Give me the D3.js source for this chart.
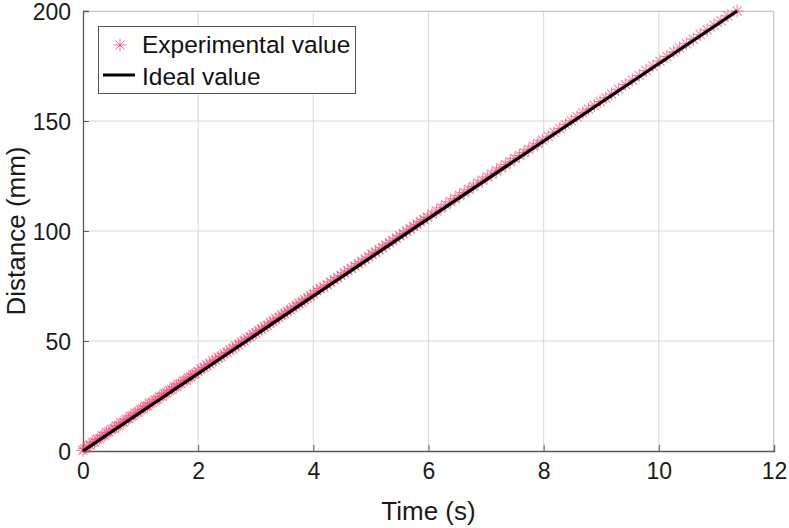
<!DOCTYPE html>
<html><head><meta charset="utf-8">
<script src="https://cdn.jsdelivr.net/npm/d3@7"></script>
<style>body{margin:0;background:#fff}svg{display:block}text{font-family:"Liberation Sans",Arial,sans-serif}</style>
</head><body>
<svg id="c" width="789" height="528"></svg>
<script>
const xTicks=[0,2,4,6,8,10,12];
const yTicks=[0,50,100,150,200];
const expTime=[0.00,0.03,0.07,0.12,0.16,0.20,0.25,0.29,0.33,0.37,0.41,0.45,0.50,0.54,0.58,0.62,0.66,0.70,0.75,0.79,0.83,0.87,0.91,0.95,1.00,1.04,1.08,1.12,1.16,1.20,1.25,1.29,1.33,1.37,1.41,1.45,1.50,1.54,1.58,1.62,1.66,1.70,1.75,1.79,1.83,1.87,1.91,1.95,
2.00,2.05,2.10,2.15,2.20,2.25,2.30,2.35,2.40,2.45,2.50,2.55,2.60,2.65,2.70,2.75,2.80,2.85,2.90,2.95,3.00,3.05,3.10,3.15,3.20,3.25,3.30,3.35,3.40,3.45,3.50,3.55,3.60,3.65,3.70,3.75,3.80,3.85,3.90,3.95,
4.00,4.06,4.12,4.18,4.24,4.30,4.36,4.42,4.48,4.54,4.60,4.66,4.72,4.78,4.84,4.90,4.96,5.02,5.08,5.14,5.20,5.26,5.32,5.38,5.44,5.50,5.56,5.62,5.68,5.74,5.80,5.86,5.92,5.98,
6.06,6.14,6.22,6.30,6.38,6.46,6.54,6.62,6.70,6.78,6.86,6.94,7.02,7.10,7.18,7.26,7.34,7.42,7.50,7.58,7.66,7.74,7.82,7.90,7.98,
8.08,8.18,8.28,8.38,8.48,8.58,8.68,8.78,8.88,8.98,9.08,9.18,9.30,9.42,9.54,9.66,9.78,9.90,10.02,10.14,10.26,10.36,10.48,10.60,10.72,10.84,10.96,11.08,11.20,11.36];
const expDist=[0.3,1.2,1.9,2.6,3.9,4.1,5.3,5.6,6.9,7.2,8.4,8.6,9.9,10.2,11.4,11.6,12.9,13.1,14.4,14.7,15.8,16.2,17.3,17.6,18.8,19.1,20.3,20.5,21.7,22.0,23.2,23.5,24.6,24.9,26.1,26.4,27.5,27.9,29.0,29.3,30.4,30.7,31.9,32.2,33.3,33.7,34.8,35.1,
36.2,37.3,38.0,39.1,39.6,40.9,41.3,42.6,43.0,44.3,44.8,46.0,46.5,47.7,48.3,49.6,50.0,51.3,51.8,53.1,53.6,54.8,55.3,56.5,57.1,58.4,58.9,60.1,60.6,61.9,62.4,63.6,64.1,65.4,65.9,67.2,67.6,68.9,69.4,70.6,
71.3,72.9,73.8,74.6,75.6,76.8,77.7,78.9,79.8,81.0,81.9,83.1,84.0,85.2,86.1,87.3,88.2,89.5,90.3,91.5,92.4,93.7,94.6,95.8,96.7,97.9,98.8,100.0,100.9,102.2,103.1,104.3,105.2,106.3,
107.7,109.1,110.6,111.9,113.4,114.7,116.2,117.5,119.0,120.3,121.8,123.1,124.6,125.9,127.4,128.7,130.2,131.5,133.0,134.3,135.7,137.1,138.6,139.9,141.3,
143.1,144.9,146.6,148.4,150.1,151.9,153.7,155.4,157.1,158.8,160.5,162.3,164.4,166.6,168.6,170.7,172.9,175.0,177.2,179.3,181.4,183.2,185.1,187.2,189.3,191.4,193.5,195.6,197.8,200.0];
const idealTime=[0,11.36];
const idealDist=[0,200];

const svg=d3.select("#c");
const L=83,R=774,T=11,B=451;
const x=d3.scaleLinear().domain([0,12]).range([L,R]);
const y=d3.scaleLinear().domain([0,200]).range([B,T]);
const grid="#d6d9d8", axc="#5a5a5a";

// grid
svg.append("g").selectAll("line").data(xTicks.slice(1)).join("line")
 .attr("x1",d=>x(d)).attr("x2",d=>x(d)).attr("y1",T).attr("y2",B).attr("stroke",grid);
svg.append("g").selectAll("line").data(yTicks.slice(1)).join("line")
 .attr("x1",L).attr("x2",R).attr("y1",d=>y(d)).attr("y2",d=>y(d)).attr("stroke",grid);
// box top/right light
svg.append("line").attr("x1",L).attr("x2",R).attr("y1",T+0.5).attr("y2",T+0.5).attr("stroke","#c8cccb");
svg.append("line").attr("x1",R-0.5).attr("x2",R-0.5).attr("y1",T).attr("y2",B).attr("stroke","#c8cccb");

// axes
const xa=svg.append("g").attr("transform",`translate(0,${B})`)
 .call(d3.axisBottom(x).tickValues(xTicks).tickSize(-6).tickPadding(12).tickFormat(d3.format("d")));
const ya=svg.append("g").attr("transform",`translate(${L},0)`)
 .call(d3.axisLeft(y).tickValues(yTicks).tickSize(-6).tickPadding(12).tickFormat(d3.format("d")));
[xa,ya].forEach(a=>{a.select(".domain").attr("stroke",axc).attr("stroke-width",1.3);
 a.selectAll(".tick line").attr("stroke",axc);
 a.selectAll(".tick text").attr("font-size",23).attr("fill","#1a1a1a").attr("font-family","Liberation Sans,Arial,sans-serif");});
ya.selectAll(".tick text").attr("dy","0.36em");

// axis labels
svg.append("text").attr("x",(L+R)/2).attr("y",520).attr("text-anchor","middle").attr("font-size",26).attr("fill","#1a1a1a").text("Time (s)");
svg.append("text").attr("transform",`translate(25,${(T+B)/2}) rotate(-90)`).attr("text-anchor","middle").attr("font-size",26).attr("fill","#1a1a1a").text("Distance (mm)");

// star marker
function star(g,cx,cy,r){
 const a=r*0.707;
 const p=`M${cx-r},${cy}H${cx+r}M${cx},${cy-r}V${cy+r}M${cx-a},${cy-a}L${cx+a},${cy+a}M${cx-a},${cy+a}L${cx+a},${cy-a}`;
 g.append("path").attr("d",p);
}
const mk=svg.append("g").attr("stroke","#f0507a").attr("stroke-opacity",0.7).attr("stroke-width",1.1).attr("fill","none");
expTime.forEach((t,i)=>star(mk,x(t),y(expDist[i]),6.5));

// ideal line
svg.append("path").datum(idealTime.map((t,i)=>[t,idealDist[i]]))
 .attr("d",d3.line().x(d=>x(d[0])).y(d=>y(d[1]))).attr("stroke","#000").attr("stroke-width",3.2).attr("fill","none");

// legend
svg.append("rect").attr("x",98.5).attr("y",26.5).attr("width",257).attr("height",67).attr("fill","#fff").attr("stroke","#555");
const lm=svg.append("g").attr("stroke","#f0507a").attr("stroke-opacity",0.8).attr("fill","none");
star(lm,120,45,6.5);
svg.append("text").attr("x",142).attr("y",53).attr("font-size",24.5).attr("fill","#111").text("Experimental value");
svg.append("line").attr("x1",103).attr("x2",135).attr("y1",75).attr("y2",75).attr("stroke","#000").attr("stroke-width",3);
svg.append("text").attr("x",142).attr("y",85).attr("font-size",24.5).attr("fill","#111").text("Ideal value");
</script>
</body></html>
